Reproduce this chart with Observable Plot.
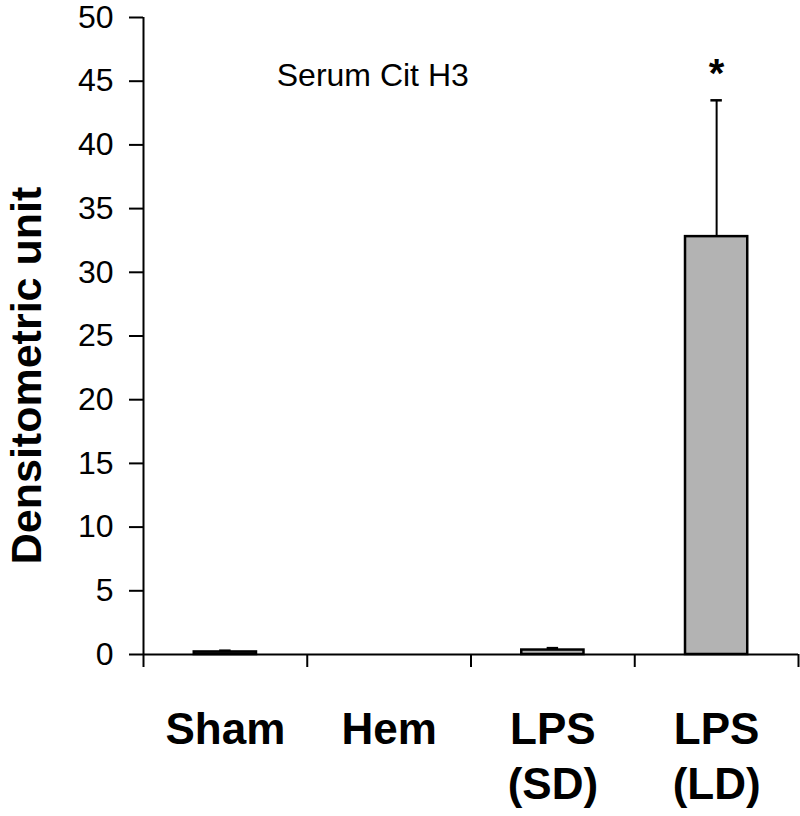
<!DOCTYPE html>
<html>
<head>
<meta charset="utf-8">
<script src="https://cdn.jsdelivr.net/npm/d3@7"></script>
<script src="https://cdn.jsdelivr.net/npm/@observablehq/plot@0.6"></script>
<style>
  html, body { margin: 0; padding: 0; background: #fff; }
  svg { display: block; }
</style>
</head>
<body>
<div id="chart"></div>
<script>
const categories = ["Sham", "Hem", "LPS\n(SD)", "LPS\n(LD)"];
const means = [0.2, 0, 0.35, 32.8];
const errors = [0.1, 0, 0.15, 10.7];
const significance = ["", "", "", "*"];
const yTicks = [0, 5, 10, 15, 20, 25, 30, 35, 40, 45, 50];
const title = "Serum Cit H3";
const yLabel = "Densitometric unit";

const data = categories.map((c, i) => ({i, c, v: means[i], e: errors[i], s: significance[i]}));
const half = 0.19;
const cap = 0.035;

const plot = Plot.plot({
  width: 800,
  height: 816,
  marginLeft: 143,
  marginRight: 2,
  marginTop: 17,
  marginBottom: 162,
  style: {fontFamily: "Arial, 'Liberation Sans', sans-serif", color: "#000", background: "#fff"},
  x: {type: "linear", domain: [0, categories.length], axis: null},
  y: {domain: [0, 50], axis: null},
  marks: [
    Plot.axisY({ticks: yTicks, tickSize: 14, tickPadding: 16, fontSize: 32, strokeWidth: 2, label: null}),
    Plot.axisX({ticks: d3.range(categories.length + 1), tickSize: 13, tickFormat: () => "", strokeWidth: 2, label: null}),
    Plot.ruleX([0], {y1: 0, y2: 50, strokeWidth: 2}),
    Plot.ruleY([0], {strokeWidth: 2}),
    Plot.rectY(data.filter(d => d.v > 0), {x1: d => d.i + 0.5 - half, x2: d => d.i + 0.5 + half, y1: 0, y2: "v", fill: "#b3b3b3", stroke: "#000", strokeWidth: 2.5}),
    Plot.ruleX(data.filter(d => d.e > 0), {x: d => d.i + 0.5, y1: "v", y2: d => d.v + d.e, strokeWidth: 2}),
    Plot.ruleY(data.filter(d => d.e > 0), {x1: d => d.i + 0.5 - cap, x2: d => d.i + 0.5 + cap, y: d => d.v + d.e, strokeWidth: 2.5}),
    Plot.text(data.filter(d => d.s), {x: d => d.i + 0.5, y: d => d.v + d.e, text: "s", dy: -26, fontSize: 40, fontWeight: "bold", lineAnchor: "middle"}),
    Plot.text(data, {x: d => d.i + 0.5, text: "c", frameAnchor: "bottom", lineAnchor: "top", dy: 50, fontSize: 44, fontWeight: "bold", lineHeight: 1.25}),
    Plot.text([title], {x: 1.4, y: 45.4, text: d => d, fontSize: 32, lineAnchor: "middle"}),
    Plot.text([yLabel], {frameAnchor: "left", y: 21.9, dx: -116, rotate: -90, text: d => d, fontSize: 43, fontWeight: "bold", textAnchor: "middle", lineAnchor: "middle"})
  ]
});
document.getElementById("chart").appendChild(plot);
</script>
</body>
</html>
